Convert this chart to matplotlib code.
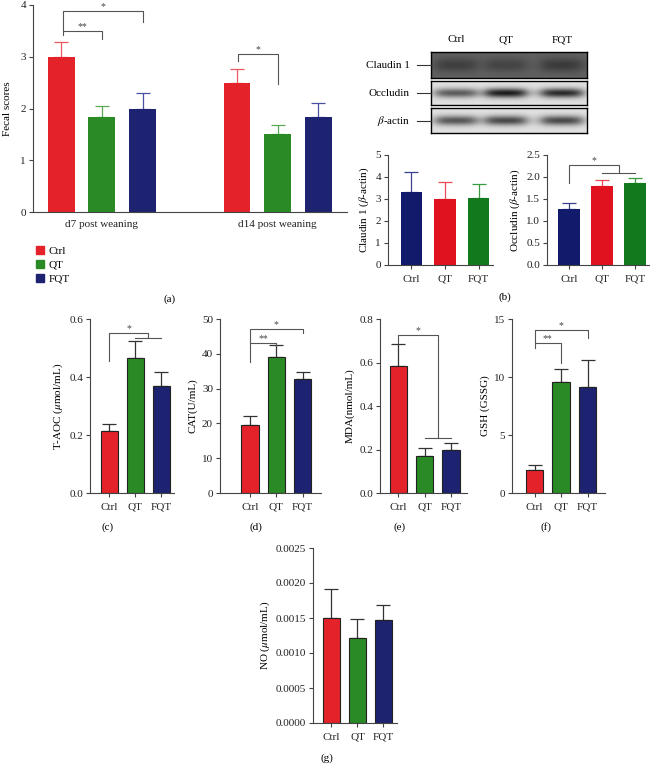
import matplotlib.pyplot as plt
from matplotlib.lines import Line2D
from matplotlib.patches import Patch
import numpy as np

plt.rcParams['font.family'] = ['Liberation Serif', 'DejaVu Serif']
plt.rcParams['mathtext.fontset'] = 'stix'

# ---- data ----
groups = ['Ctrl', 'QT', 'FQT']
days = ['d7 post weaning', 'd14 post weaning']
fecal_mean = [[3.0, 1.83, 2.0], [2.5, 1.5, 1.83]]
fecal_err = [[0.28, 0.21, 0.29], [0.26, 0.18, 0.28]]

claudin_mean = [3.33, 3.0, 3.05]
claudin_err = [0.9, 0.78, 0.63]
occludin_mean = [1.28, 1.8, 1.86]
occludin_err = [0.13, 0.14, 0.12]

taoc_mean = [0.213, 0.465, 0.37]
taoc_err = [0.025, 0.058, 0.048]
cat_mean = [19.5, 39.0, 32.8]
cat_err = [2.7, 3.4, 2.0]
mda_mean = [0.585, 0.17, 0.2]
mda_err = [0.1, 0.035, 0.03]
gsh_mean = [2.0, 9.6, 9.1]
gsh_err = [0.42, 1.1, 2.4]
no_mean = [0.0015, 0.00121, 0.00147]
no_err = [0.00042, 0.00028, 0.00022]

# blot band darkness per lane (0 = white, 1 = black) and row background
blot_rows = ['Claudin 1', 'Occludin', r'$\beta$-actin']
blot_bg = [0.62, 0.12, 0.12]
blot_bands = [[0.35, 0.3, 0.4], [0.6, 0.88, 0.82], [0.62, 0.68, 0.68]]

RED, GREEN, NAVY = '#e3222a', '#2a8a25', '#1d2370'
B_NAVY, B_RED, B_GREEN = '#111a6b', '#e0121f', '#127a1c'
AX = '#444444'
FS = 8

W, H = 658, 765
fig = plt.figure(figsize=(W / 100, H / 100), dpi=100)


def px_axes(x0, y0, x1, y1):
    return fig.add_axes([x0 / W, 1 - y1 / H, (x1 - x0) / W, (y1 - y0) / H])


def style(ax, fs=FS):
    for s in ['top', 'right']:
        ax.spines[s].set_visible(False)
    for s in ['left', 'bottom']:
        ax.spines[s].set_color(AX)
        ax.spines[s].set_linewidth(0.8)
    ax.tick_params(colors=AX, labelcolor='#222222', labelsize=fs, length=3, width=0.8, pad=2)
    ax.tick_params(axis='x', pad=4)


def bracket(ax, x0, x1, y, y0, y1, text=None, ts=7):
    ax.plot([x0, x0, x1, x1], [y0, y, y, y1], color='#555555', lw=0.8, clip_on=False)
    if text:
        ax.text((x0 + x1) / 2, y, text, ha='center', va='bottom', fontsize=ts, color='#444444')


def small_bar(ax, means, errs, colors, xlim, ylim, ticks, ylabel, fmt=None, edge=True, ecolors=None):
    x = np.arange(3)
    ax.bar(x, means, width=0.65, color=colors,
           edgecolor='#222222' if edge else 'none', linewidth=0.8 if edge else 0, zorder=2)
    for i in range(3):
        ec = ecolors[i] if ecolors else '#333333'
        ax.errorbar(x[i], means[i], yerr=[[0], [errs[i]]], fmt='none', ecolor=ec,
                    elinewidth=0.9, capsize=5, capthick=0.9, zorder=1)
    ax.set_xlim(*xlim)
    ax.set_ylim(*ylim)
    ax.set_yticks(ticks)
    if fmt:
        ax.set_yticklabels([fmt % t for t in ticks])
    ax.set_xticks(x)
    ax.set_xticklabels(groups)
    ax.set_ylabel(ylabel, fontsize=FS, labelpad=3)
    style(ax)


# ---- panel (a) ----
ax = px_axes(33, 5, 347, 212)
gap = 4.32
cols = [RED, GREEN, NAVY]
ecols = ['#ee5a5f', '#5aaa55', '#4a50a0']
for g in range(2):
    for i in range(3):
        xi = g * gap + i
        ax.bar(xi, fecal_mean[g][i], width=0.66, color=cols[i], zorder=2)
        ax.errorbar(xi, fecal_mean[g][i], yerr=[[0], [fecal_err[g][i]]], fmt='none',
                    ecolor=ecols[i], elinewidth=0.9, capsize=5, capthick=0.9, zorder=1)
ax.set_xlim(-0.69, 7.02)
ax.set_ylim(0, 4)
ax.set_yticks([0, 1, 2, 3, 4])
ax.set_xticks([1, gap + 1])
ax.set_xticklabels(days)
ax.set_ylabel('Fecal scores', fontsize=FS, labelpad=6)
style(ax)
ax.tick_params(axis='x', length=0, pad=6)
bracket(ax, 0.05, 1, 3.5, 3.42, 3.34, '**')
bracket(ax, 0.05, 2, 3.88, 3.5, 3.68, '*')
bracket(ax, gap + 0.03, gap + 1, 3.05, 2.92, 2.47, '*')
handles = [Patch(color=c, label=l) for c, l in zip(cols, groups)]
fig.legend(handles=handles, loc='upper left', bbox_to_anchor=(26 / W, 1 - 236 / H),
           frameon=False, fontsize=FS, handlelength=0.75, handleheight=0.75,
           handletextpad=0.4, labelspacing=0.35)
fig.text(170 / W, 1 - 299 / H, '(a)', ha='center', va='center', fontsize=FS)

# ---- panel (b) blot ----
lane_pos = [0.16, 0.48, 0.84]
rows_px = [(52, 78), (81, 105), (108, 133)]
xx = np.linspace(0, 1, 300)
yy = np.linspace(-1, 1, 50)
for r in range(3):
    top, bot = rows_px[r]
    bax = px_axes(431, top, 587, bot)
    dark = np.full((50, 300), blot_bg[r])
    for k in range(3):
        hprof = 1 / (1 + np.exp((np.abs(xx - lane_pos[k]) - 0.13) / 0.025))
        vprof = np.exp(-(yy / (0.55 if r == 0 else 0.4)) ** 2)
        dark = dark + blot_bands[r][k] * np.outer(vprof, hprof) * (1 - blot_bg[r])
    bax.imshow(1 - np.clip(dark, 0, 1), cmap='gray', vmin=0, vmax=1, aspect='auto')
    bax.set_xticks([])
    bax.set_yticks([])
    for s in bax.spines.values():
        s.set_linewidth(1.0)
    yc = 1 - (top + bot) / 2 / H
    fig.text(410 / W, yc, blot_rows[r], ha='right', va='center', fontsize=FS)
    fig.add_artist(Line2D([417 / W, 431 / W], [yc, yc], color='#333333', lw=0.8))
for k, g in enumerate(groups):
    fig.text((431 + 156 * lane_pos[k]) / W, 1 - 40 / H, g, ha='center', va='center', fontsize=FS)

# ---- panel (b) bars ----
bcols = [B_NAVY, B_RED, B_GREEN]
ax = px_axes(388, 155, 493, 265)
small_bar(ax, claudin_mean, claudin_err, bcols, (-0.70, 2.43), (0, 5), [0, 1, 2, 3, 4, 5],
          r'Claudin 1 ($\beta$-actin)', edge=False, ecolors=['#3a4290', '#ee4a55', '#3a9a40'])
ax = px_axes(547, 155, 649, 265)
small_bar(ax, occludin_mean, occludin_err, bcols, (-0.67, 2.42), (0, 2.5),
          [0, 0.5, 1.0, 1.5, 2.0, 2.5], r'Occludin ($\beta$-actin)', fmt='%.1f', edge=False,
          ecolors=['#3a4290', '#ee4a55', '#3a9a40'])
bracket(ax, 0, 1.5, 2.27, 1.86, 2.09, '*')
ax.plot([1, 2], [2.09, 2.09], color='#555555', lw=0.8)
fig.text(505 / W, 1 - 297 / H, '(b)', ha='center', va='center', fontsize=FS)

# ---- panels (c)-(f) ----
cols = [RED, GREEN, NAVY]
ax = px_axes(90, 319, 174, 493)
small_bar(ax, taoc_mean, taoc_err, cols, (-0.74, 2.49), (0, 0.6), [0, 0.2, 0.4, 0.6],
          r'T-AOC ($\mu$mol/mL)', fmt='%.1f')
bracket(ax, 0, 1.5, 0.552, 0.455, 0.535, '*')
ax.plot([1, 2], [0.535, 0.535], color='#555555', lw=0.8)

ax = px_axes(220, 319, 321, 493)
small_bar(ax, cat_mean, cat_err, cols, (-1.14, 2.70), (0, 50), [0, 10, 20, 30, 40, 50],
          'CAT(U/mL)')
bracket(ax, 0, 1, 43.1, 37.6, 42.2, '**')
bracket(ax, 0, 2, 47.1, 43.1, 46.0, '*')

ax = px_axes(380, 319, 467, 493)
small_bar(ax, mda_mean, mda_err, cols, (-0.70, 2.61), (0, 0.8), [0, 0.2, 0.4, 0.6, 0.8],
          'MDA(nmol/mL)', fmt='%.1f')
bracket(ax, 0, 1.5, 0.726, 0.69, 0.253, '*')
ax.plot([1, 2], [0.253, 0.253], color='#555555', lw=0.8)

ax = px_axes(512, 319, 605, 493)
small_bar(ax, gsh_mean, gsh_err, cols, (-0.85, 2.66), (0, 15), [0, 5, 10, 15], 'GSH (GSSG)')
bracket(ax, 0, 1, 12.9, 12.5, 11.2, '**')
bracket(ax, 0, 2, 14.05, 12.9, 13.4, '*')

for lab, x in zip(['(c)', '(d)', '(e)', '(f)'], [108, 256, 400, 546]):
    fig.text(x / W, 1 - 527 / H, lab, ha='center', va='center', fontsize=FS)

# ---- panel (g) ----
ax = px_axes(313, 548, 397, 723)
small_bar(ax, no_mean, no_err, cols, (-0.71, 2.52), (0, 0.0025),
          [0, 0.0005, 0.001, 0.0015, 0.002, 0.0025], r'NO ($\mu$mol/mL)', fmt='%.4f')
fig.text(327 / W, 1 - 758 / H, '(g)', ha='center', va='center', fontsize=FS)

fig.savefig('out.png', dpi=100)
